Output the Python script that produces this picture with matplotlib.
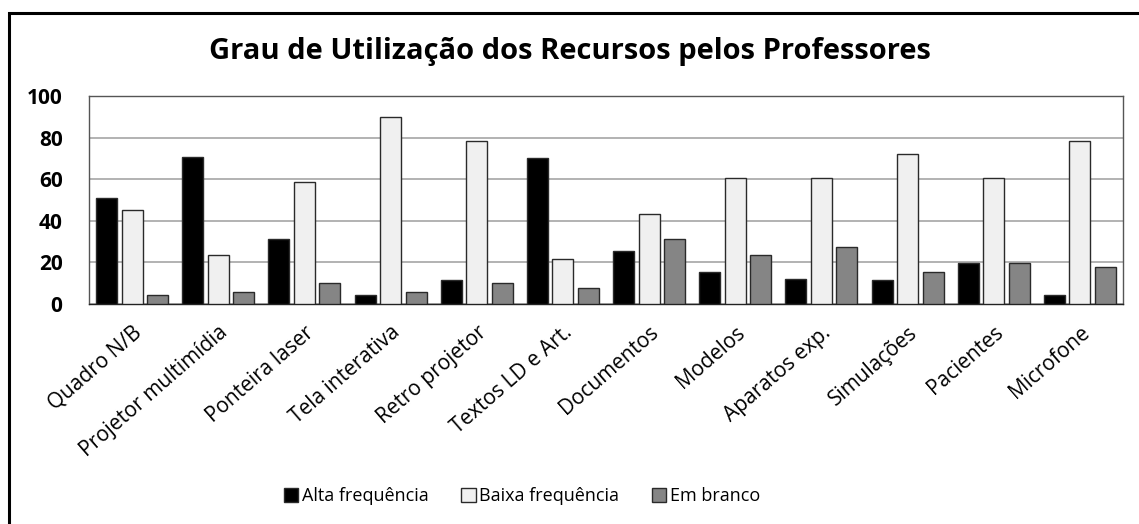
import matplotlib
matplotlib.use("Agg")
import matplotlib.pyplot as plt
import numpy as np
from matplotlib.patches import Rectangle, Patch

categories = ["Quadro N/B", "Projetor multimídia", "Ponteira laser", "Tela interativa",
              "Retro projetor", "Textos LD e Art.", "Documentos", "Modelos",
              "Aparatos exp.", "Simulações", "Pacientes", "Microfone"]
alta = [51, 70.8, 31.3, 4.2, 11.5, 70.2, 25.6, 15.5, 12.0, 11.5, 19.9, 4.2]
baixa = [45.2, 23.4, 58.7, 89.9, 78.4, 21.8, 43.1, 60.7, 60.7, 72.1, 60.7, 78.4]
branco = [4.2, 5.8, 9.9, 5.8, 9.9, 7.9, 31.1, 23.4, 27.6, 15.5, 19.7, 17.6]
series_names = ["Alta frequência", "Baixa frequência", "Em branco"]
yticks = [0, 20, 40, 60, 80, 100]
title = "Grau de Utilização dos Recursos pelos Professores"

plt.rcParams['font.family'] = ['Open Sans', 'DejaVu Sans']

W, H = 1139, 524
fig = plt.figure(figsize=(W/100, H/100), dpi=100)
fig.patch.set_facecolor('white')

# outer frame (left and top visible)
fig.add_artist(Rectangle((9/W, -0.05), 1.2, 1 - 13/H + 0.05, transform=fig.transFigure,
                         fill=False, edgecolor='black', linewidth=2.2))

ax = fig.add_axes([89/W, 1 - 304/H, (1123-89)/W, (304-96)/H])
x = np.arange(len(categories))
colors = ['#000000', '#f0f0f0', '#858585']
offs = [-0.296, 0, 0.296]
for vals, c, o, n in zip([alta, baixa, branco], colors, offs, series_names):
    ax.bar(x + o, vals, width=0.245, color=c, edgecolor='#2a2a2a', linewidth=1.0,
           label=n, zorder=3)

ax.set_xlim(-0.5, len(categories) - 0.5)
ax.set_ylim(0, 100)
ax.set_yticks(yticks)
ax.set_yticklabels([str(v) for v in yticks], fontsize=15, fontweight='bold')
ax.yaxis.grid(True, color='#a6a6a6', linewidth=1.2, zorder=0)
ax.set_axisbelow(True)
ax.tick_params(axis='y', length=0, pad=19)
ax.tick_params(axis='x', length=0, pad=13)
ax.set_xticks(x)
ax.set_xticklabels(categories, rotation=41, ha='right', rotation_mode='anchor', fontsize=15)
for s in ax.spines.values():
    s.set_color('#555555')
    s.set_linewidth(1.0)
ax.spines['bottom'].set_color('#222222')

fig.text(570/W, 1 - 52/H, title, ha='center', va='center', fontsize=21, fontweight='bold')

handles = [Patch(facecolor=c, edgecolor='#2a2a2a', linewidth=1.0) for c in colors]
fig.legend(handles, series_names, loc='center', bbox_to_anchor=(522/W, 1 - 496/H),
           ncol=3, frameon=False, fontsize=13, handlelength=0.8, handleheight=0.8,
           handletextpad=0.2, columnspacing=1.8)

fig.savefig("out.png", dpi=100)
